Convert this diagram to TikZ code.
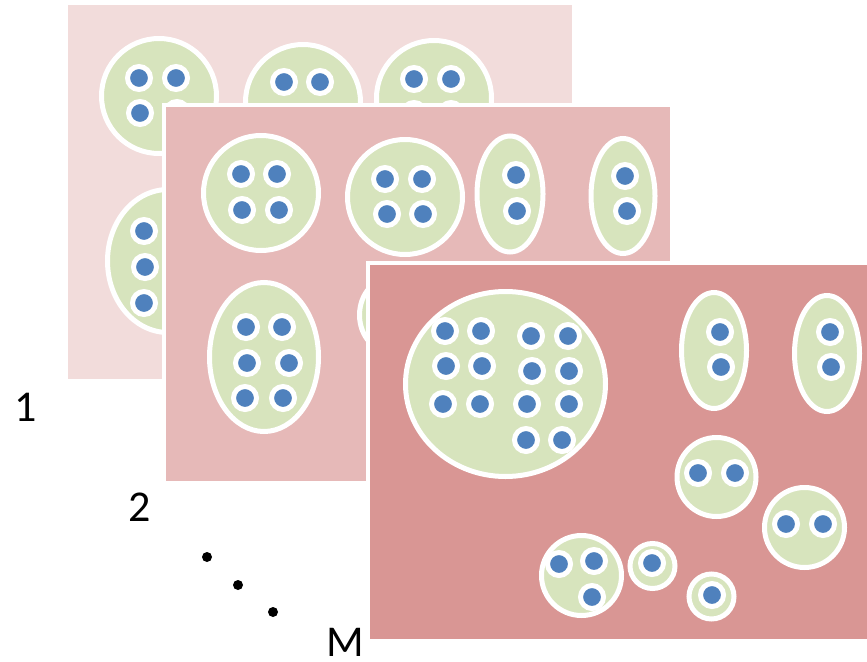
\documentclass[tikz,border=0pt]{standalone}
\usepackage{fontspec}
\setmainfont{Carlito}
\usetikzlibrary{positioning,shapes.geometric}
\definecolor{PanelOne}{RGB}{242,220,219}
\definecolor{PanelTwo}{RGB}{230,185,184}
\definecolor{PanelThree}{RGB}{217,150,148}
\definecolor{ClusterGreen}{RGB}{215,228,189}
\definecolor{MemberBlue}{RGB}{79,129,189}
\tikzset{
  panel/.style={draw=white,line width=4pt,rectangle,inner sep=0pt,
    minimum width=508pt,minimum height=378pt},
  cluster/.style={draw=white,fill=ClusterGreen,line width=5pt,ellipse,inner sep=0pt},
  ring/.style={cluster,circle},
  member/.style={circle,draw=white,fill=MemberBlue,line width=5pt,
    inner sep=0pt,minimum size=23pt},
  tag/.style={font=\fontsize{44}{44}\selectfont,inner sep=0pt},
  pip/.style={circle,fill=black,inner sep=0pt,minimum size=10pt}
}
\begin{document}
\begin{tikzpicture}[x=1pt,y=-1pt]
  \clip (0,0) rectangle (867,661);

  % first partition
  \node[panel,fill=PanelOne] (one) at (319.5,192) {};
  \node[ring,minimum size=115pt] (a1) at (159,96) {};
  \node[member] (a1m1) at (139,78) {};  \node[member] (a1m2) at (176,78) {};
  \node[member] (a1m3) at (140,113) {}; \node[member] (a1m4) at (177,113) {};
  \node[ring,minimum size=115pt] (b1) at (303,102) {};
  \node[member] (b1m1) at (284,82) {};  \node[member] (b1m2) at (320,82) {};
  \node[ring,minimum size=115pt] (c1) at (434,98) {};
  \node[member] (c1m1) at (414,79) {};  \node[member] (c1m2) at (451,79) {};
  \node[member] (c1m3) at (414,114) {}; \node[member] (c1m4) at (451,114) {};
  \node[cluster,minimum width=121pt,minimum height=143pt] (d1) at (168,261) {};
  \node[member] (d1m1) at (144,231) {}; \node[member] (d1m2) at (145,267) {};
  \node[member] (d1m3) at (144,303) {};

  % second partition
  \node[panel,fill=PanelTwo] (two) at (418,294) {};
  \node[ring,minimum size=115pt] (e2) at (261,193) {};
  \node[member] (e2m1) at (241,174) {}; \node[member] (e2m2) at (277,174) {};
  \node[member] (e2m3) at (242,210) {}; \node[member] (e2m4) at (279,210) {};
  \node[ring,minimum size=115pt] (f2) at (405,197) {};
  \node[member] (f2m1) at (385,179) {}; \node[member] (f2m2) at (422,179) {};
  \node[member] (f2m3) at (387,214) {}; \node[member] (f2m4) at (423,214) {};
  \node[cluster,minimum width=66pt,minimum height=116pt] (g2) at (510,194) {};
  \node[member] (g2m1) at (516,175) {}; \node[member] (g2m2) at (517,211) {};
  \node[cluster,minimum width=64pt,minimum height=115pt] (h2) at (623,196) {};
  \node[member] (h2m1) at (625,176) {}; \node[member] (h2m2) at (627,211) {};
  \node[cluster,minimum width=109pt,minimum height=149pt] (i2) at (264,357) {};
  \node[member] (i2m1) at (246,327) {}; \node[member] (i2m2) at (282,327) {};
  \node[member] (i2m3) at (247,363) {}; \node[member] (i2m4) at (289,363) {};
  \node[member] (i2m5) at (245,398) {}; \node[member] (i2m6) at (283,398) {};
  \node[cluster,minimum width=65pt,minimum height=75pt] (j2) at (392,315) {};

  % last partition
  \node[panel,fill=PanelThree] (three) at (622,451.5) {};
  \node[cluster,minimum width=200pt,minimum height=185pt] (k3) at (505.5,384) {};
  \node[member] (k3m1) at (445,331) {};  \node[member] (k3m2) at (481,331) {};
  \node[member] (k3m3) at (531,336) {};  \node[member] (k3m4) at (568,336) {};
  \node[member] (k3m5) at (446,366) {};  \node[member] (k3m6) at (482,366) {};
  \node[member] (k3m7) at (532,371) {};  \node[member] (k3m8) at (569,371) {};
  \node[member] (k3m9) at (443,404) {};  \node[member] (k3m10) at (480,404) {};
  \node[member] (k3m11) at (527,404) {}; \node[member] (k3m12) at (569,404) {};
  \node[member] (k3m13) at (526,440) {}; \node[member] (k3m14) at (562,440) {};
  \node[cluster,minimum width=65pt,minimum height=116pt] (l3) at (714,350.5) {};
  \node[member] (l3m1) at (720,332) {}; \node[member] (l3m2) at (721,367) {};
  \node[cluster,minimum width=65pt,minimum height=116pt] (n3) at (827,353.5) {};
  \node[member] (n3m1) at (830,332) {}; \node[member] (n3m2) at (831,367) {};
  \node[ring,minimum size=79pt] (o3) at (716.5,477) {};
  \node[member] (o3m1) at (698,473) {}; \node[member] (o3m2) at (735,473) {};
  \node[ring,minimum size=80pt] (p3) at (804.5,527.5) {};
  \node[member] (p3m1) at (786,524) {}; \node[member] (p3m2) at (823,524) {};
  \node[ring,minimum size=80pt] (q3) at (581.5,575.5) {};
  \node[member] (q3m1) at (559,564) {}; \node[member] (q3m2) at (594,561) {};
  \node[member] (q3m3) at (592,597) {};
  \node[ring,minimum size=45pt] (r3) at (652.5,566) {};
  \node[member] (r3m1) at (652,563) {};
  \node[ring,minimum size=45pt] (s3) at (711.5,596.5) {};
  \node[member] (s3m1) at (712,595) {};

  % numbering
  \node[tag] (lab1) at (26,407) {1};
  \node[tag] (lab2) at (140,507) {2};
  \node[pip] (gap1) at (207,557) {};
  \node[pip] (gap2) at (238,585) {};
  \node[pip] (gap3) at (273,612) {};
  \node[tag] (labM) at (345,642) {M};
\end{tikzpicture}
\end{document}
